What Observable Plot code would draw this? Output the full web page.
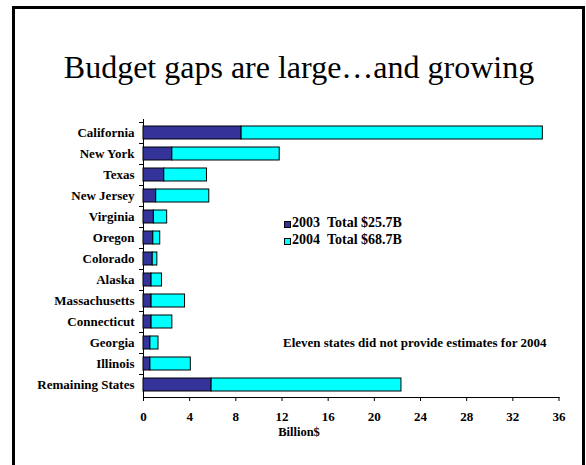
<!DOCTYPE html>
<html>
<head>
<meta charset="utf-8">
<script src="https://cdn.jsdelivr.net/npm/d3@7"></script>
<script src="https://cdn.jsdelivr.net/npm/@observablehq/plot@0.6"></script>
<style>
  html, body { margin: 0; padding: 0; background: #fff; }
  body { width: 586px; height: 465px; overflow: hidden; position: relative; font-family: "Liberation Serif", "Times New Roman", serif; }
  #frame { position: absolute; left: 12px; top: 6px; width: 573px; height: 520px; border: 3px solid #000; box-sizing: border-box; pointer-events: none; }
  #title { position: absolute; left: 0; width: 598px; top: 51px; text-align: center; font-size: 32px; line-height: 1; font-weight: normal; white-space: nowrap; }
  #chart { position: absolute; left: 0; top: 0; }
  .legend { position: absolute; left: 284px; font-size: 14px; font-weight: bold; line-height: 17px; white-space: nowrap; }
  .legend .row { position: relative; height: 17px; }
  .legend .sw { position: absolute; left: 0; top: 7px; width: 5px; height: 5px; border: 1px solid #000; }
  .legend .yr { position: absolute; left: 8px; top: 0; }
  .legend .tot { position: absolute; left: 43px; top: 0; }
  #note { position: absolute; left: 283px; top: 336px; font-size: 13px; font-weight: bold; line-height: 1; white-space: nowrap; }
  #xlabel { position: absolute; left: 0; width: 598px; top: 426px; text-align: center; font-size: 12.5px; font-weight: bold; line-height: 1; }
</style>
</head>
<body>
<div id="chart"></div>
<div id="title"></div>
<div class="legend" id="legend" style="top:214px"></div>
<div id="note"></div>
<div id="xlabel"></div>
<div id="frame"></div>
<script>
// ---- data ----
const states = ["California", "New York", "Texas", "New Jersey", "Virginia", "Oregon", "Colorado",
  "Alaska", "Massachusetts", "Connecticut", "Georgia", "Illinois", "Remaining States"];
const gap2003 = [8.5, 2.5, 1.8, 1.1, 0.9, 0.85, 0.8, 0.7, 0.7, 0.7, 0.6, 0.6, 5.9];
const gap2004 = [26.1, 9.3, 3.7, 4.6, 1.15, 0.6, 0.4, 0.9, 2.9, 1.8, 0.7, 3.5, 16.45];
const years = ["2003", "2004"];
const yearColors = ["#333399", "#00FFFF"];
const yearTotals = ["Total $25.7B", "Total $68.7B"];
const xTicks = [0, 4, 8, 12, 16, 20, 24, 28, 32, 36];
const titleText = "Budget gaps are large\u2026and growing";
const noteText = "Eleven states did not provide estimates for 2004";
const xLabelText = "Billion$";

// ---- table ----
const table = states.flatMap((s, i) => [
  {state: s, year: years[0], value: gap2003[i]},
  {state: s, year: years[1], value: gap2004[i]}
]);

const chart = Plot.plot({
  width: 586,
  height: 465,
  marginTop: 119,
  marginBottom: 68,
  marginLeft: 143,
  marginRight: 27.5,
  style: {fontFamily: "Liberation Serif", fontSize: "13px", fontWeight: "bold", background: "transparent", color: "#000"},
  x: {domain: [0, 36], ticks: xTicks, tickSize: 4, tickPadding: 10, line: true, label: null},
  y: {domain: states, paddingInner: 0.4, paddingOuter: 0.2, tickSize: 4, tickPadding: 5, line: true, label: null},
  color: {domain: years, range: yearColors},
  marks: [
    Plot.barX(table, {x: "value", y: "state", fill: "year", stroke: "#000", strokeWidth: 1})
  ]
});
document.getElementById("chart").appendChild(chart);

// move y ticks to band boundaries
const ys = chart.scale("y");
const step = (ys && ys.step) ? ys.step : 278 / states.length;
let yt = chart.querySelectorAll('g[aria-label="y-axis tick"] path');
if (yt.length) {
  yt.forEach(p => {
    const t = p.getAttribute("transform") || "";
    p.setAttribute("transform", t + ` translate(0,${-step / 2})`);
  });
} else {
  chart.querySelectorAll('g[aria-label="y-axis"] .tick line').forEach(l => {
    l.setAttribute("transform", `translate(0,${-step / 2})`);
  });
}

document.getElementById("title").textContent = titleText;
document.getElementById("note").textContent = noteText;
document.getElementById("xlabel").textContent = xLabelText;
const leg = document.getElementById("legend");
years.forEach((y, i) => {
  const row = document.createElement("div");
  row.className = "row";
  row.innerHTML = `<span class="sw" style="background:${yearColors[i]}"></span><span class="yr">${y}</span><span class="tot">${yearTotals[i]}</span>`;
  leg.appendChild(row);
});
</script>
</body>
</html>
